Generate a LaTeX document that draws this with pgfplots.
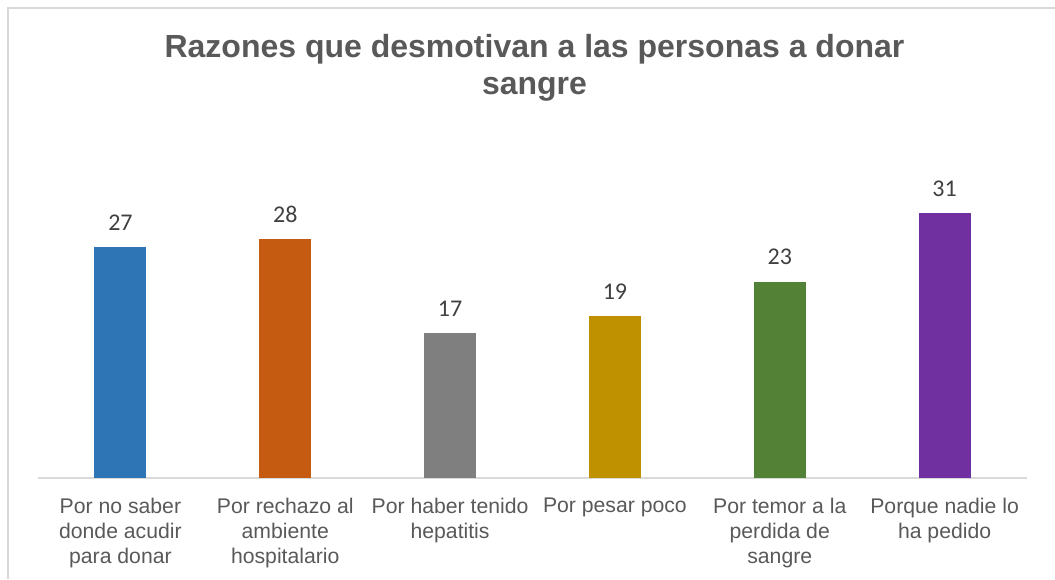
\documentclass[border=0pt]{standalone}
\usepackage{pgfplots}
\pgfplotsset{compat=1.18}
\usepackage{fontspec}
\setmainfont{Liberation Sans}
\newfontfamily\carlito{Carlito}
\definecolor{c1}{HTML}{2E75B6}
\definecolor{c2}{HTML}{C55A11}
\definecolor{c3}{HTML}{7F7F7F}
\definecolor{c4}{HTML}{BF9000}
\definecolor{c5}{HTML}{538135}
\definecolor{c6}{HTML}{7030A0}
\definecolor{txt}{HTML}{595959}
\definecolor{lbl}{HTML}{404040}
\definecolor{bord}{HTML}{D9D9D9}
\begin{document}
\begin{tikzpicture}[x=1pt,y=1pt]
\useasboundingbox (0,0) rectangle (1055,579);
\draw[bord,line width=1.5pt] (8,0) -- (8,571) -- (1055,571);
\node[font=\fontsize{32}{37}\selectfont\bfseries,text=txt,align=center,anchor=base] at (534.5,484) {Razones que desmotivan a las personas a donar\\sangre};
\begin{axis}[
  at={(38pt,101pt)}, anchor=south west,
  scale only axis, width=989pt, height=299pt,
  xmin=-0.5, xmax=5.5, ymin=0, ymax=35,
  axis x line*=bottom, axis y line=none,
  x axis line style={bord,line width=1.5pt,-},
  xtick={0,1,2,3,4,5}, xtick style={draw=none},
  xticklabels={{Por no saber\\donde acudir\\para donar}, {Por rechazo al\\ambiente\\hospitalario}, {Por haber tenido\\hepatitis}, {Por pesar poco}, {Por temor a la\\perdida de\\sangre}, {Porque nadie lo\\ha pedido}},
  xticklabel style={font=\fontsize{21.2}{25}\selectfont, text=txt, align=center, yshift=-12pt},
  ytick=\empty,
  ybar, bar width=52pt, bar shift=0pt,
  nodes near coords={\carlito\pgfmathprintnumber[assume math mode=true]{\pgfplotspointmeta}},
  every node near coord/.append style={font=\carlito\fontsize{24}{28}\selectfont, text=lbl, yshift=13pt},
  clip=false,
]
\addplot[fill=c1,draw=none] coordinates {(0,27)};
\addplot[fill=c2,draw=none] coordinates {(1,28)};
\addplot[fill=c3,draw=none] coordinates {(2,17)};
\addplot[fill=c4,draw=none] coordinates {(3,19)};
\addplot[fill=c5,draw=none] coordinates {(4,23)};
\addplot[fill=c6,draw=none] coordinates {(5,31)};
\end{axis}
\end{tikzpicture}
\end{document}
